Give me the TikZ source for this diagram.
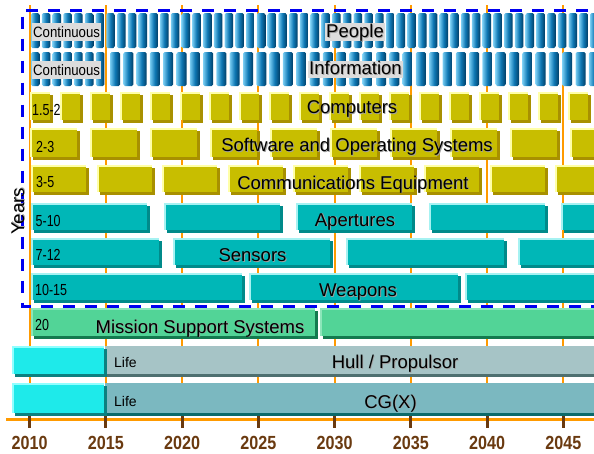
\documentclass[tikz,border=0pt]{standalone}
\usepackage{fontspec}
\setmainfont{Liberation Sans}
\newfontfamily\narrowfont[FakeStretch=0.78]{Liberation Sans}
\newfontfamily\tagfont[FakeStretch=0.88]{Liberation Sans}
\newfontfamily\yearfont[FakeStretch=0.85]{Liberation Sans}

\definecolor{gridorange}{HTML}{FF9A00}
\definecolor{axisbrown}{HTML}{6A3A10}
\definecolor{dashblue}{HTML}{0000F0}
\definecolor{labelgray}{HTML}{DCDCDC}
\definecolor{txtshadow}{HTML}{A0A0A0}
\definecolor{cylhi}{HTML}{7ACDF2}
\definecolor{cylmd}{HTML}{0F78B4}
\definecolor{cyldk}{HTML}{003E66}
\definecolor{yelhicol}{HTML}{FFFFA8}
\definecolor{yelbdcol}{HTML}{C8BE00}
\definecolor{yelshcol}{HTML}{A89000}
\definecolor{cyahicol}{HTML}{A6F2F2}
\definecolor{cyabdcol}{HTML}{00B7B7}
\definecolor{cyashcol}{HTML}{008A8A}
\definecolor{grnhicol}{HTML}{8CE6BA}
\definecolor{grnbdcol}{HTML}{52D497}
\definecolor{grnshcol}{HTML}{137A4F}
\definecolor{aquahicol}{HTML}{90FFFF}
\definecolor{aquabdcol}{HTML}{1EEAEA}
\definecolor{aquashcol}{HTML}{0C8080}
\definecolor{hullgray}{HTML}{A6C4C6}
\definecolor{hulldk}{HTML}{4E7070}
\definecolor{cgteal}{HTML}{7BB8C0}
\definecolor{cgdk}{HTML}{0B6A6A}

% bevelled block: kind, x1, y1, x2, y2 (y grows downwards)
\newcommand\brick[5]{%
  \fill[#1hi] ({#2},{#3}) rectangle ({#4-3},{#5-3});
  \fill[#1sh] ({#2+3},{#3+3}) rectangle ({#4},{#5});
  \fill[#1bd] ({#2+2},{#3+2}) rectangle ({#4-3},{#5-3});}
% text with a soft drop shadow
\newcommand\shd[1]{\rlap{\kern0.9pt\raisebox{-0.9pt}{\textcolor{txtshadow}{#1}}}#1}

\begin{document}
\begin{tikzpicture}[x=1pt,y=-1pt,
    grid/.style={gridorange,line width=2pt},
    border/.style={dashblue,line width=3pt,dash pattern=on 12pt off 10pt},
    tick/.style={axisbrown,line width=3pt},
    cyl/.style={left color=cylhi,right color=cyldk,middle color=cylmd,rounded corners=1.5pt},
    yelhi/.style={fill=yelhicol}, yelbd/.style={fill=yelbdcol}, yelsh/.style={fill=yelshcol},
    cyahi/.style={fill=cyahicol}, cyabd/.style={fill=cyabdcol}, cyash/.style={fill=cyashcol},
    grnhi/.style={fill=grnhicol}, grnbd/.style={fill=grnbdcol}, grnsh/.style={fill=grnshcol},
    aquahi/.style={fill=aquahicol}, aquabd/.style={fill=aquabdcol}, aquash/.style={fill=aquashcol},
    big/.style={font=\fontsize{18.5}{20}\selectfont,anchor=base,inner sep=0pt},
    small/.style={font=\narrowfont\fontsize{16}{18}\selectfont,anchor=base west,inner sep=0pt},
    tag/.style={font=\tagfont\fontsize{15}{17}\selectfont,fill=labelgray,inner xsep=1pt,inner ysep=0pt,text height=14pt,text depth=3.5pt},
    yearlbl/.style={font=\yearfont\bfseries\fontsize{19}{20}\selectfont,axisbrown,anchor=base,inner sep=0pt}]
  \useasboundingbox (0,0) rectangle (594,453);
  \clip (0,0) rectangle (594,453);

  % year grid
  \foreach \i in {0,...,7}
    \draw[grid] ({29.6+76.25*\i},5) -- ({29.6+76.25*\i},419);

  % People
  \foreach \k in {0,...,52}
    \shade[cyl] ({31+10.75*\k},13) rectangle ({39.5+10.75*\k},48);
  % Information
  \foreach \k in {0,...,6}
    \shade[cyl] ({31+10.8*\k},52) rectangle ({39.5+10.8*\k},86);
  \foreach \k in {0,...,36}
    \shade[cyl] ({110+13.3*\k},52) rectangle ({120+13.3*\k},86);

  % Computers, software, communications
  \foreach \k in {0,...,18}{
    \brick{yel}{30+29.9*\k}{92}{53+29.9*\k}{123}}
  \foreach \k in {0,...,9}{
    \brick{yel}{30+60*\k}{128}{80+60*\k}{160}}
  \foreach \k in {0,...,8}{
    \brick{yel}{31+65.5*\k}{165}{89+65.5*\k}{195}}

  % Apertures, sensors, weapons
  \foreach \k in {0,...,4}{
    \brick{cya}{31+132.5*\k}{203}{150+132.5*\k}{233}}
  \foreach \a/\b in {31/162,173/333,346/507,518/679}{
    \brick{cya}{\a}{238}{\b}{268}}
  \foreach \a/\b in {31/245,249/461,465/677}{
    \brick{cya}{\a}{273}{\b}{303}}

  % Mission support
  \foreach \a/\b in {31/318,320/610}{
    \brick{grn}{\a}{308}{\b}{339}}

  % Hull and CG(X)
  \fill[hullgray] (105,346) rectangle (600,377);
  \fill[hulldk] (105,374) rectangle (600,377);
  \brick{aqua}{12}{346}{107}{377}
  \fill[cgteal] (105,383) rectangle (600,416);
  \fill[cgdk] (105,413) rectangle (600,416);
  \brick{aqua}{12}{383}{107}{416}

  % dashed frame
  \draw[border] (610,10) -- (22.7,10) -- (22.7,306) -- (610,306);

  % time axis
  \draw[gridorange,line width=3pt] (6,419) -- (600,419);
  \foreach \i in {0,...,7}{
    \pgfmathtruncatemacro\yr{2010+5*\i}
    \draw[tick] ({29.6+76.25*\i},416) -- ({29.6+76.25*\i},428);
    \node[yearlbl] (y\yr) at ({29.6+76.25*\i},449) {\yr};}

  % row labels
  \node[small,tag] (contp) at (32,37) {Continuous};
  \node[small,tag] (conti) at (32,75) {Continuous};
  \node[big,tag,font=\fontsize{18.5}{20}\selectfont] (people) at (355,37.3) {\shd{People}};
  \node[big,tag,font=\fontsize{18.5}{20}\selectfont] (info) at (355.5,74.5) {\shd{Information}};
  \node[big] (comp) at (352,113.5) {\shd{Computers}};
  \node[big] (soft) at (357,151.5) {\shd{Software and Operating Systems}};
  \node[big] (comm) at (353,189) {\shd{Communications Equipment}};
  \node[big] (aper) at (355,226) {\shd{Apertures}};
  \node[big] (sens) at (252.5,261.5) {\shd{Sensors}};
  \node[big] (weap) at (358,296.5) {\shd{Weapons}};
  \node[big] (miss) at (200,333) {\shd{Mission Support Systems}};
  \node[big] (hull) at (395,368.5) {\shd{Hull / Propulsor}};
  \node[big] (cgx) at (390.5,408) {\shd{CG(X)}};
  \node[big,font=\fontsize{14}{16}\selectfont,anchor=base west] (lifeh) at (114,367.5) {Life};
  \node[big,font=\fontsize{14}{16}\selectfont,anchor=base west] (lifec) at (114,406) {Life};
  \node[big,rotate=90] (years) at (24,211.5) {\shd{Years}};

  % lifetimes
  \node[small] (t1) at (32,115) {1.5-2};
  \node[small] (t2) at (36,152) {2-3};
  \node[small] (t3) at (36,187.3) {3-5};
  \node[small] (t4) at (35.5,226) {5-10};
  \node[small] (t5) at (35.5,260) {7-12};
  \node[small] (t6) at (35,295) {10-15};
  \node[small] (t7) at (35,330) {20};
\end{tikzpicture}
\end{document}
